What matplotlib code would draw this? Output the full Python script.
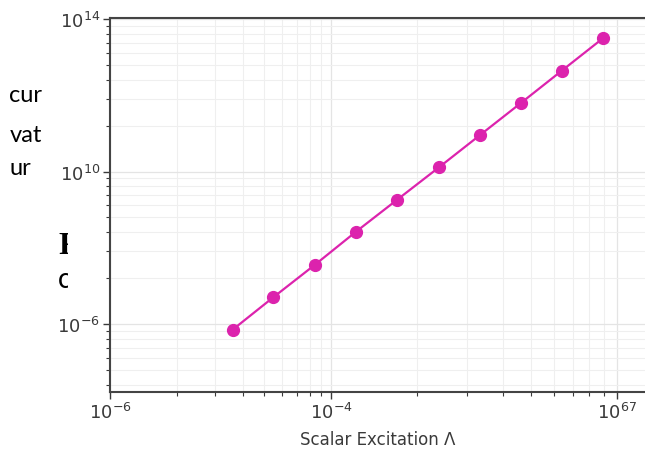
import numpy as np
import matplotlib
matplotlib.use("Agg")
import matplotlib.pyplot as plt
from matplotlib.ticker import FixedLocator, FixedFormatter, NullFormatter
from matplotlib.transforms import Bbox, TransformedBbox

# data (axis values behind the printed tick labels)
excitation = [3.59e-6, 5.48e-6, 8.47e-6, 1.223e-5, 1.698e-5,
              2.385e-5, 3.32e-5, 4.61e-5, 6.41e-5, 8.95e-5]
response = [9.18e-7, 1.496e-6, 2.45e-6, 4.03e-6, 6.50e-6,
            1.065e-5, 1.734e-5, 2.81e-5, 4.58e-5, 7.50e-5]

x_major = [1e-6, 1e-5, 1e-4]
x_labels = ["$\\mathdefault{10^{-6}}$", "$\\mathdefault{10^{-4}}$", "$\\mathdefault{10^{67}}$"]
y_major = [1e-6, 1e-5, 1e-4]
y_labels = ["$\\mathdefault{10^{-6}}$", "$\\mathdefault{10^{10}}$", "$\\mathdefault{10^{14}}$"]

side_words = ["cur", "vat", "ur"]

W, H = 645, 452
LINE = "#dc23ad"
INK = "#3a3a3a"


# the x decades are not drawn the same width: first one is narrower
def fwd(x):
    u = np.log10(np.clip(np.asarray(x, dtype=float), 1e-300, None))
    return np.where(u <= -5, (u + 6) * 221.0, 221.0 + (u + 5) * 286.0)


def inv(p):
    p = np.asarray(p, dtype=float)
    u = np.where(p <= 221.0, p / 221.0 - 6, (p - 221.0) / 286.0 - 5)
    return 10.0 ** u


def minor_positions(lo, hi):
    out = []
    for e in range(lo, hi):
        for k in range(2, 10):
            out.append(k * 10.0 ** e)
    return out


fig = plt.figure(figsize=(W / 100, H / 100), dpi=100)
ax = fig.add_axes([110 / W, 1 - 393 / H, (W - 110) / W, (393 - 19) / H])

ax.set_xscale("function", functions=(fwd, inv))
ax.set_yscale("log")

ax.grid(True, which="major", color="#e4e4e4", linewidth=0.9, zorder=0)
ax.grid(True, which="minor", color="#efefef", linewidth=0.8, zorder=0)
ax.set_axisbelow(True)

ax.plot(excitation, response, "-o", color=LINE, lw=1.6, ms=8.5,
        markeredgecolor=LINE, zorder=3)

ax.set_xlim(1e-6, float(inv(535.0)))
ax.set_ylim(10 ** (-6 - 68 / 152.5), 10 ** (-4 + 1 / 152.5))

ax.xaxis.set_major_locator(FixedLocator(x_major))
ax.xaxis.set_major_formatter(FixedFormatter(x_labels))
ax.xaxis.set_minor_locator(FixedLocator(minor_positions(-7, -3)))
ax.xaxis.set_minor_formatter(NullFormatter())
ax.yaxis.set_major_locator(FixedLocator(y_major))
ax.yaxis.set_major_formatter(FixedFormatter(y_labels))
ax.yaxis.set_minor_locator(FixedLocator(minor_positions(-8, -3)))
ax.yaxis.set_minor_formatter(NullFormatter())

ax.tick_params(which="major", length=5, width=1.0, color=INK,
               labelsize=13, labelcolor=INK, pad=2)
ax.tick_params(which="minor", length=3, width=0.8, color=INK)

for s in ["left", "bottom", "top"]:
    ax.spines[s].set_color("#444444")
    ax.spines[s].set_linewidth(1.5)
ax.spines["right"].set_visible(False)

ax.set_xlabel("Scalar Excitation Λ", fontsize=12, color=INK, labelpad=6)

# stray words on the left margin
for word, base in zip(side_words, [101.7, 141.7, 175.0]):
    fig.text(9.5 / W, 1 - base / H, word, fontsize=17, family="Lato",
             color="black", va="baseline", ha="left")

clip = TransformedBbox(Bbox([[0, 0], [68 / W, 1]]), fig.transFigure)
t1 = fig.text(58 / W, 1 - 254 / H, "F", fontsize=23, family="Liberation Serif",
              weight="bold", color="black", va="baseline", ha="left")
t2 = fig.text(58 / W, 1 - 288 / H, "c", fontsize=20, family="Lato",
              color="black", va="baseline", ha="left")
for t in (t1, t2):
    t.set_clip_box(clip)
    t.set_clip_on(True)

fig.savefig("out.png", dpi=100)
